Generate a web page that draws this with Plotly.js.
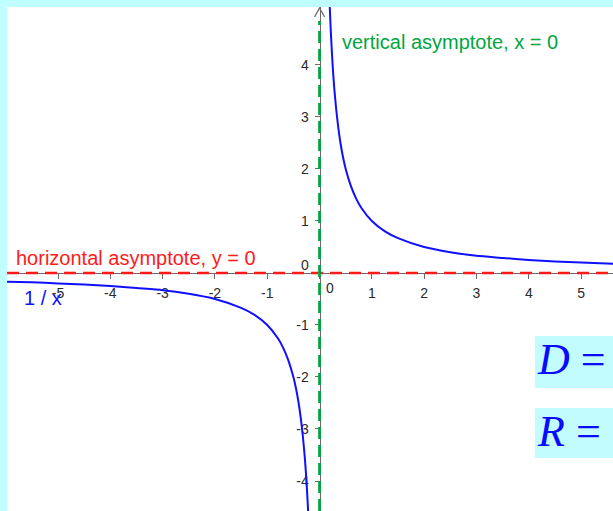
<!DOCTYPE html>
<html>
<head>
<meta charset="utf-8">
<script src="https://cdn.plot.ly/plotly-3.0.1.min.js"></script>
<style>
  html, body { margin: 0; padding: 0; overflow: hidden; background: #bfffff; }
  #chart { width: 613px; height: 511px; }
</style>
</head>
<body>
<div id="chart"></div>
<script>
// f(x) = 1 / x, sampled on both branches
const rightX = [0.19, 0.2, 0.22, 0.25, 0.28, 0.32, 0.36, 0.4, 0.45, 0.5, 0.6, 0.7, 0.8, 1, 1.25, 1.5, 2, 2.5, 3, 3.5, 4, 4.5, 5, 5.7];
const rightY = [5.26, 5, 4.55, 4, 3.57, 3.13, 2.78, 2.5, 2.22, 2, 1.67, 1.43, 1.25, 1, 0.8, 0.67, 0.5, 0.4, 0.33, 0.29, 0.25, 0.22, 0.2, 0.175];
const leftX = [-6, -5.5, -5, -4.5, -4, -3.5, -3, -2.5, -2, -1.5, -1.25, -1, -0.8, -0.7, -0.6, -0.5, -0.45, -0.4, -0.36, -0.32, -0.28, -0.25, -0.22, -0.21];
const leftY = [-0.167, -0.18, -0.2, -0.22, -0.25, -0.29, -0.33, -0.4, -0.5, -0.67, -0.8, -1, -1.25, -1.43, -1.67, -2, -2.22, -2.5, -2.78, -3.13, -3.57, -4, -4.55, -4.76];

// asymptotes
const horizontalAsymptoteY = 0;
const verticalAsymptoteX = 0;

// axis ticks
const xTickVals = [-5, -4, -3, -2, -1, 0, 1, 2, 3, 4, 5];
const xTickText = ["-5", "-4", "-3", "-2", "-1", "", "1", "2", "3", "4", "5"];
const yTickVals = [-4, -3, -2, -1, 0, 1, 2, 3, 4];
const yTickText = ["-4", "-3", "-2", "-1", "", "1", "2", "3", "4"];
const originLabel = "0";

// view window
const xRange = [-5.975, 5.61];
const yRange = [-4.577, 5.115];
const xDomain = [7 / 613, 1];
const yDomain = [0, 504 / 511];

// where the axes cross (paper fractions of the origin)
const yAxisPos = xDomain[0] + (0 - xRange[0]) / (xRange[1] - xRange[0]) * (xDomain[1] - xDomain[0]);
const xAxisPos = yDomain[0] + (0 - yRange[0]) / (yRange[1] - yRange[0]) * (yDomain[1] - yDomain[0]);

const blue = "#1010ff";
const red = "#ff1a1a";
const green = "#00a640";
const axisGrey = "#6b6b6b";
const tickFont = { family: "Liberation Sans, Arial, sans-serif", size: 14, color: "#2a2a2a" };
const labelFont = { family: "Liberation Sans, Arial, sans-serif", size: 20 };
const mathFont = { family: "Liberation Serif, Times New Roman, serif", size: 44, color: "#0a0aff" };

const traces = [
  { x: leftX, y: leftY, mode: "lines", line: { color: blue, width: 2, shape: "spline", smoothing: 0.6 }, hoverinfo: "skip" },
  { x: rightX, y: rightY, mode: "lines", line: { color: blue, width: 2, shape: "spline", smoothing: 0.6 }, hoverinfo: "skip" },
  { x: xRange, y: [horizontalAsymptoteY, horizontalAsymptoteY], mode: "lines",
    line: { color: red, width: 2.6, dash: "12px,7px" }, hoverinfo: "skip" },
  { x: [verticalAsymptoteX, verticalAsymptoteX], y: [yRange[0], yRange[1] - 0.27], mode: "lines",
    line: { color: green, width: 2.8, dash: "12px,6px" }, hoverinfo: "skip" }
];

const layout = {
  width: 613,
  height: 511,
  margin: { l: 0, r: 0, t: 0, b: 0, pad: 0 },
  paper_bgcolor: "#bfffff",
  plot_bgcolor: "#ffffff",
  showlegend: false,
  xaxis: {
    domain: xDomain, range: xRange, anchor: "free", position: xAxisPos,
    showgrid: false, zeroline: false, showline: true, linecolor: axisGrey, linewidth: 1,
    layer: "below traces",
    tickmode: "array", tickvals: xTickVals, ticktext: xTickText,
    ticks: "outside", ticklen: 5, tickwidth: 1, tickcolor: axisGrey,
    ticklabelstandoff: 2, tickfont: tickFont, fixedrange: true
  },
  yaxis: {
    domain: yDomain, range: yRange, anchor: "free", position: yAxisPos,
    showgrid: false, zeroline: false, showline: true, linecolor: axisGrey, linewidth: 1,
    layer: "below traces",
    tickmode: "array", tickvals: yTickVals, ticktext: yTickText,
    ticks: "outside", ticklen: 5, tickwidth: 1, tickcolor: axisGrey,
    ticklabelstandoff: 3, tickfont: tickFont, fixedrange: true
  },
  shapes: [
    // arrow head on top of the y axis
    { type: "path", xref: "x", yref: "y", xsizemode: "pixel", ysizemode: "pixel",
      xanchor: 0, yanchor: yRange[1], path: "M -5 -10 L 0 -1 L 5 -10",
      line: { color: axisGrey, width: 1.3 } },
    // domain / range boxes
    { type: "rect", xref: "paper", yref: "paper", x0: 535 / 613, x1: 1.02, y0: 1 - 388 / 511, y1: 1 - 336 / 511,
      fillcolor: "#c2fcff", line: { width: 0 } },
    { type: "rect", xref: "paper", yref: "paper", x0: 535 / 613, x1: 1.02, y0: 1 - 458 / 511, y1: 1 - 408 / 511,
      fillcolor: "#c2fcff", line: { width: 0 } }
  ],
  annotations: [
    { text: originLabel, xref: "x", yref: "y", x: 0, y: 0, xshift: 10, yshift: -15, showarrow: false, font: tickFont },
    { text: originLabel, xref: "x", yref: "y", x: 0, y: 0, xshift: -15, yshift: 8, showarrow: false, font: tickFont },
    { text: "horizontal asymptote, y = 0", xref: "paper", yref: "y", x: 14 / 613, y: horizontalAsymptoteY,
      xanchor: "left", yanchor: "bottom", yshift: 2, showarrow: false, font: Object.assign({ color: red }, labelFont) },
    { text: "vertical asymptote, x = 0", xref: "paper", yref: "paper", x: 340 / 613, y: 1 - 42 / 511,
      xanchor: "left", yanchor: "middle", showarrow: false, font: Object.assign({ color: green }, labelFont) },
    { text: "1 / x", xref: "paper", yref: "paper", x: 22 / 613, y: 1 - 298 / 511,
      xanchor: "left", yanchor: "middle", showarrow: false, font: Object.assign({ color: blue }, labelFont) },
    { text: "<i>D</i> =", xref: "paper", yref: "paper", x: 535 / 613, y: 1 - 359 / 511,
      xanchor: "left", yanchor: "middle", showarrow: false, font: mathFont },
    { text: "<i>R</i> = {", xref: "paper", yref: "paper", x: 535 / 613, y: 1 - 431 / 511,
      xanchor: "left", yanchor: "middle", showarrow: false, font: mathFont }
  ]
};

Plotly.newPlot("chart", traces, layout, { staticPlot: true, displayModeBar: false });
</script>
</body>
</html>
